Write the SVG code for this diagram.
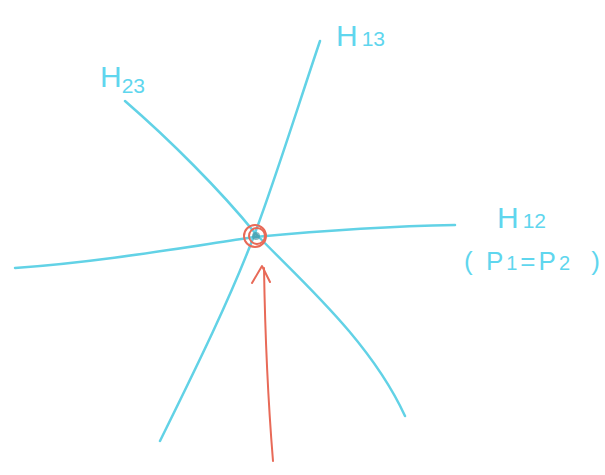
<svg xmlns="http://www.w3.org/2000/svg" width="605" height="475" viewBox="0 0 605 475">
<style>
.ln{fill:none;stroke:#62d2e6;stroke-width:2.5;stroke-linecap:round;stroke-linejoin:round}
.rd{fill:none;stroke:#e86a58;stroke-width:2;stroke-linecap:round;stroke-linejoin:round}
.t{font-family:"Liberation Sans",Arial,sans-serif;fill:#5fd6ee;font-weight:300}
.big{font-size:30px}
.sub{font-size:21px}
</style>
<rect width="605" height="475" fill="#ffffff"/>
<g id="connectors">
<path class="ln" d="M320,41 C300,100 275,180 255,233 C230,300 190,380 160,441"/>
<path class="ln" d="M125,101 C170,140 220,190 255,233 C300,280 370,340 405,416"/>
<path class="ln" d="M15,268 C100,262 180,248 255,237 C330,230 400,226 455,225"/>
<path class="rd" d="M273,461 C268,400 265,330 264,268"/>
<path class="rd" d="M252,283 L262,266 L270,282"/>
</g>
<g id="center">
<circle class="rd" cx="255" cy="236" r="11"/>
<circle class="rd" cx="257" cy="236" r="8"/>
<circle cx="256" cy="236" r="4" fill="#3a8a9a" opacity="0.6"/>
</g>
<g id="H13">
<text class="t" x="336" y="46"><tspan class="big">H</tspan><tspan class="sub" dx="4">13</tspan></text>
</g>
<g id="H23">
<text class="t" x="100" y="87"><tspan class="big">H</tspan><tspan class="sub" dy="6">23</tspan></text>
</g>
<g id="H12">
<text class="t" x="497" y="228"><tspan class="big">H</tspan><tspan class="sub" dx="4">12</tspan></text>
<text class="t" x="464" y="270" font-size="26" letter-spacing="3">( <tspan>P</tspan><tspan font-size="20">1</tspan><tspan>=</tspan><tspan>P</tspan><tspan font-size="20">2</tspan> <tspan dx="8">)</tspan></text>
</g>
</svg>
